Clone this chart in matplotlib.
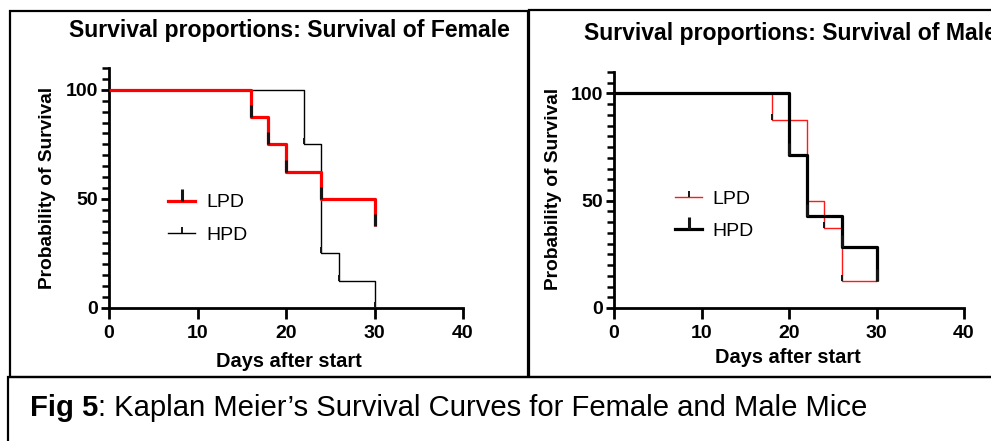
import matplotlib
matplotlib.use('Agg')
import matplotlib.pyplot as plt
from matplotlib.patches import Rectangle
from matplotlib.lines import Line2D
from matplotlib.ticker import MultipleLocator, FixedLocator

plt.rcParams['font.family'] = ['Liberation Sans', 'DejaVu Sans']

# ---------------- data ----------------
female_lpd_days = [0, 16, 18, 20, 24, 30]
female_lpd_surv = [100, 87.5, 75, 62.5, 50, 37.5]
female_hpd_days = [0, 22, 24, 26, 30]
female_hpd_surv = [100, 75, 25, 12.5, 0]

male_lpd_days = [0, 18, 22, 24, 26, 30]
male_lpd_surv = [100, 87.5, 50, 37.5, 12.5, 12.5]
male_hpd_days = [0, 20, 22, 26, 30]
male_hpd_surv = [100, 71.4, 42.9, 28.6, 12.5]

# number of event (death) points after the start point, per series
female_lpd_events = 5
female_hpd_events = 4
male_lpd_events = 4
male_hpd_events = 4

group_labels = ['LPD', 'HPD']
panel_titles = ['Survival proportions: Survival of Female',
                'Survival proportions: Survival of Male']
x_label = 'Days after start'
y_label = 'Probability of Survival'
x_ticks = [0, 10, 20, 30, 40]
y_ticks = [0, 50, 100]
caption_bold = 'Fig 5'
caption_rest = ': Kaplan Meier\u2019s Survival Curves for Female and Male Mice'

# ---------------- layout ----------------
W, H = 991, 441
fig = plt.figure(figsize=(W / 100, H / 100), dpi=100)


def fx(px):
    return px / W


def fy(py):
    return 1 - py / H


ax_f = fig.add_axes([fx(109), fy(308), (463 - 109) / W, (308 - 68) / H])
ax_m = fig.add_axes([fx(614), fy(308), (964 - 614) / W, (308 - 72) / H])

THICK, THIN = 2.3, 1.0
TICK_COLOR = '#151515'


def style_axes(ax):
    ax.set_xlim(0, 40)
    ax.set_ylim(0, 110)
    for s in ['top', 'right']:
        ax.spines[s].set_visible(False)
    for s in ['left', 'bottom']:
        ax.spines[s].set_linewidth(2.0)
    ax.xaxis.set_major_locator(FixedLocator(x_ticks))
    ax.yaxis.set_major_locator(FixedLocator(y_ticks))
    ax.yaxis.set_minor_locator(MultipleLocator(5))
    ax.tick_params(axis='x', which='major', direction='out', length=8, width=2,
                   labelsize=14, pad=4)
    ax.tick_params(axis='y', which='major', direction='out', length=6, width=2,
                   labelsize=14, pad=2)
    ax.tick_params(axis='y', which='minor', direction='out', length=5, width=1.8)
    for lab in ax.get_xticklabels() + ax.get_yticklabels():
        lab.set_fontweight('bold')


def km(ax, days, surv, n_events, color, lw, msize, mew, z):
    ax.step(days, surv, where='post', color=color, lw=lw, clip_on=False, zorder=z,
            solid_capstyle='butt')
    ax.plot(days[1:1 + n_events], surv[1:1 + n_events], linestyle='none', marker=2,
            markersize=msize, markeredgewidth=mew, color=TICK_COLOR, clip_on=False,
            zorder=z + 0.5)
    return Line2D([], [], color=color, lw=lw, marker=2, markersize=msize,
                  markeredgewidth=mew, markeredgecolor=TICK_COLOR)


for ax in (ax_f, ax_m):
    style_axes(ax)

# Female panel
h_fh = km(ax_f, female_hpd_days, female_hpd_surv, female_hpd_events, 'black', THIN, 4, 1.4, 3)
h_fl = km(ax_f, female_lpd_days, female_lpd_surv, female_lpd_events, '#ff0000', THICK, 9, 2.2, 4)
ax_f.legend([h_fl, h_fh], group_labels, loc='center left', bbox_to_anchor=(0.167, 0.372),
            frameon=False, fontsize=14, handlelength=1.4, handletextpad=0.55,
            labelspacing=0.75, borderpad=0, borderaxespad=0, numpoints=1)

# Male panel
h_ml = km(ax_m, male_lpd_days, male_lpd_surv, male_lpd_events, '#ff1a1a', THIN, 4, 1.4, 3)
h_mh = km(ax_m, male_hpd_days, male_hpd_surv, male_hpd_events, 'black', THICK, 9, 2.2, 4)
ax_m.legend([h_ml, h_mh], group_labels, loc='center left', bbox_to_anchor=(0.174, 0.394),
            frameon=False, fontsize=14, handlelength=1.4, handletextpad=0.55,
            labelspacing=0.75, borderpad=0, borderaxespad=0, numpoints=1)

# ---------------- texts ----------------
t_title_f = fig.text(fx(289), fy(37), panel_titles[0], ha='center', va='baseline',
                     fontsize=15, fontweight='bold')
t_title_m = fig.text(fx(584), fy(40), panel_titles[1], ha='left', va='baseline',
                     fontsize=15, fontweight='bold')
t_yl_f = fig.text(fx(48), fy(188), y_label, rotation=90, ha='center', va='center',
                  fontsize=14, fontweight='bold')
t_yl_m = fig.text(fx(553), fy(189), y_label, rotation=90, ha='center', va='center',
                  fontsize=14, fontweight='bold')
t_xl_f = fig.text(fx(289), fy(367), x_label, ha='center', va='baseline',
                  fontsize=14, fontweight='bold')
t_xl_m = fig.text(fx(788), fy(363), x_label, ha='center', va='baseline',
                  fontsize=14, fontweight='bold')
t_cap1 = fig.text(fx(30), fy(416), caption_bold, ha='left', va='baseline',
                  fontsize=18, fontweight='bold',
                  family=['Liberation Sans Narrow', 'Liberation Sans', 'DejaVu Sans'])

fig.canvas.draw()
r = fig.canvas.get_renderer()


def fit(texts, target, horizontal=True):
    tot = 0
    for t in texts:
        bb = t.get_window_extent(r)
        tot += bb.width if horizontal else bb.height
    k = target / tot
    for t in texts:
        t.set_fontsize(t.get_fontsize() * k)


fit([t_title_f], 446)
t_title_m.set_fontsize(t_title_f.get_fontsize())
fit([t_yl_f], 202, horizontal=False)
t_yl_m.set_fontsize(t_yl_f.get_fontsize())
fit([t_xl_f], 146)
t_xl_m.set_fontsize(t_xl_f.get_fontsize())

t_cap2 = fig.text(0, 0, caption_rest, fontsize=18,
                  family=['Liberation Sans Narrow', 'Liberation Sans', 'DejaVu Sans'])
fig.canvas.draw()
w1 = t_cap1.get_window_extent(r).width
w2 = t_cap2.get_window_extent(r).width
k = 836 / (w1 + w2)
t_cap1.set_fontsize(18 * k)
t_cap2.set_fontsize(18 * k)
fig.canvas.draw()
bb1 = t_cap1.get_window_extent(r)
t_cap2.set_position((bb1.x1 / W, fy(416)))
t_cap2.set_va('baseline')

# ---------------- boxes ----------------
fig.add_artist(Rectangle((fx(10), fy(377)), (528 - 10) / W, (377 - 11) / H,
                         transform=fig.transFigure, fill=False, lw=1.6, ec='black'))
fig.add_artist(Rectangle((fx(529), fy(377)), (1010 - 529) / W, (377 - 10) / H,
                         transform=fig.transFigure, fill=False, lw=1.6, ec='black'))
fig.add_artist(Rectangle((fx(8), fy(460)), (1010 - 8) / W, (460 - 377) / H,
                         transform=fig.transFigure, fill=False, lw=1.6, ec='black'))

fig.savefig('out.png', dpi=100)
